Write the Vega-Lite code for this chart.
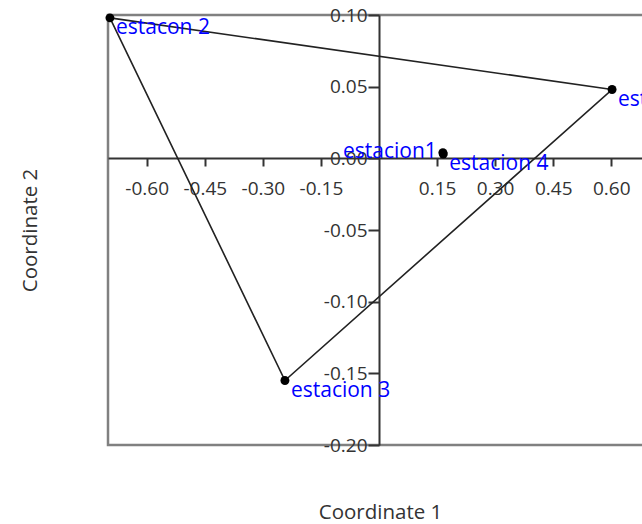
{
  "$schema": "https://vega.github.io/schema/vega-lite/v6.json",
  "autosize": {"type": "none"},
  "padding": {"left": 108, "top": 15, "right": 0, "bottom": 80},
  "width": 542,
  "height": 430,
  "background": "white",
  "config": {
    "view": {"stroke": "#808080", "strokeWidth": 2.5},
    "font": "Open Sans"
  },
  "datasets": {
    "pts": [
      {"name": "estacion1", "c1": 0.165, "c2": 0.004},
      {"name": "estacon 2", "c1": -0.695, "c2": 0.098},
      {"name": "estacion 3", "c1": -0.243, "c2": -0.155},
      {"name": "estacion 4", "c1": 0.166, "c2": 0.003},
      {"name": "estacion 5", "c1": 0.602, "c2": 0.048}
    ],
    "hull": [
      {"k": 1, "c1": -0.695, "c2": 0.098},
      {"k": 2, "c1": 0.602, "c2": 0.048},
      {"k": 3, "c1": -0.243, "c2": -0.155},
      {"k": 4, "c1": -0.695, "c2": 0.098}
    ]
  },
  "encoding": {
    "x": {
      "field": "c1", "type": "quantitative",
      "scale": {"domain": [-0.7, 0.7], "nice": false, "zero": false},
      "axis": {
        "title": "Coordinate 1",
        "orient": "bottom",
        "offset": -287,
        "values": [-0.6, -0.45, -0.3, -0.15, 0.15, 0.3, 0.45, 0.6],
        "labelExpr": "replace(format(datum.value, '.2f'), '\u2212', '-')",
        "grid": false,
        "domainColor": "#333333", "domainWidth": 2,
        "tickColor": "#333333", "tickWidth": 2, "tickSize": 8,
        "labelFont": "Open Sans", "labelFontSize": 19, "labelColor": "#333333",
        "labelPadding": 13, "labelFlush": false, "labelOverlap": false,
        "titleFont": "Open Sans", "titleFontSize": 20.5, "titleFontWeight": "normal", "titleColor": "#333333",
        "titleX": 272, "titleY": 354, "titleAlign": "center", "titleBaseline": "middle"
      }
    },
    "y": {
      "field": "c2", "type": "quantitative",
      "scale": {"domain": [-0.2, 0.1], "nice": false, "zero": false},
      "axis": {
        "title": "Coordinate 2",
        "orient": "left",
        "offset": -271,
        "values": [-0.2, -0.15, -0.1, -0.05, 0, 0.05, 0.1],
        "labelExpr": "replace(format(datum.value, '.2f'), '\u2212', '-')",
        "grid": false,
        "domainColor": "#333333", "domainWidth": 2,
        "tickColor": "#333333", "tickWidth": 2, "tickSize": 11,
        "labelFont": "Open Sans", "labelFontSize": 19, "labelColor": "#333333",
        "labelPadding": 1, "labelFlush": false, "labelOverlap": false,
        "titleFont": "Open Sans", "titleFontSize": 20.5, "titleFontWeight": "normal", "titleColor": "#333333",
        "titleX": -349, "titleY": 215, "titleAlign": "center", "titleBaseline": "middle", "titleAngle": -90
      }
    }
  },
  "layer": [
    {
      "data": {"name": "hull"},
      "mark": {"type": "line", "color": "#222222", "strokeWidth": 1.6},
      "encoding": {"order": {"field": "k", "type": "quantitative"}}
    },
    {
      "data": {"name": "pts"},
      "mark": {"type": "point", "filled": true, "color": "black", "opacity": 1, "size": 80}
    },
    {
      "data": {"name": "pts"},
      "transform": [{"filter": "datum.name !== 'estacion1'"}],
      "mark": {"type": "text", "align": "left", "baseline": "middle", "dx": 6, "dy": 10, "fontSize": 21, "color": "#0000ff", "font": "Open Sans"},
      "encoding": {"text": {"field": "name"}}
    },
    {
      "data": {"name": "pts"},
      "transform": [{"filter": "datum.name === 'estacion1'"}],
      "mark": {"type": "text", "align": "right", "baseline": "middle", "dx": -6, "dy": -1, "fontSize": 21, "color": "#0000ff", "font": "Open Sans"},
      "encoding": {"text": {"field": "name"}}
    }
  ]
}
